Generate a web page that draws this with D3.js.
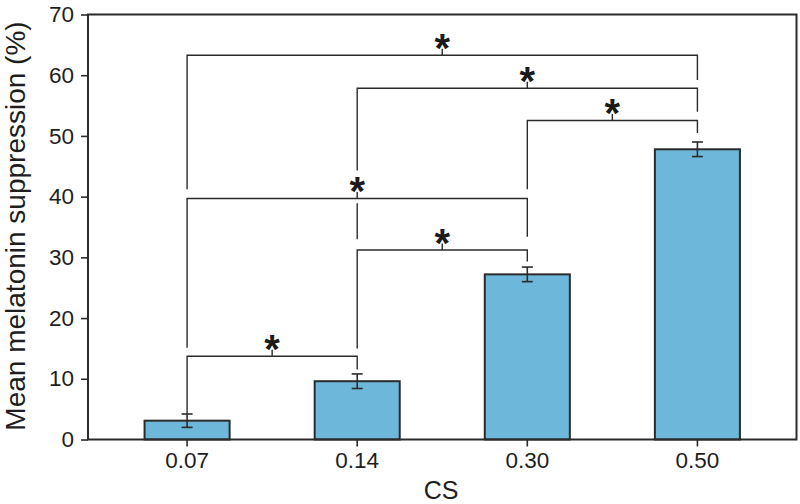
<!DOCTYPE html>
<html>
<head>
<meta charset="utf-8">
<script src="https://cdn.jsdelivr.net/npm/d3@7"></script>
<style>
  html, body { margin: 0; padding: 0; background: #fff; }
  text { font-family: "Liberation Sans", Arial, sans-serif; }
</style>
</head>
<body>
<svg id="chart" width="800" height="504"></svg>
<script>
// ---- data ----
const categories = ["0.07", "0.14", "0.30", "0.50"];
const means = [3.1, 9.6, 27.2, 47.8];
const errors = [1.1, 1.2, 1.2, 1.2];
const yTicks = [0, 10, 20, 30, 40, 50, 60, 70];
// significance brackets: from, to, height, left leg end, right leg end (data units)
const bracketFrom = ["0.07", "0.14", "0.30", "0.07", "0.14", "0.07"];
const bracketTo   = ["0.50", "0.50", "0.50", "0.30", "0.30", "0.14"];
const bracketY    = [63.3, 57.85, 52.55, 39.7, 31.2, 13.7];
const bracketLeftEnd  = [41.2, 44.3, 41.2, 15.1, 15.0, 4.3];
const bracketRightEnd = [59.2, 54.0, 50.5, 33.4, 29.3, 11.55];
const bracketLabel = ["*", "*", "*", "*", "*", "*"];
// extra leg segment (continuation of a bracket leg below a crossing)
const extraLegCat = ["0.14"];
const extraLegTop = [38.9];
const extraLegBottom = [33.0];

// ---- layout ----
const mLeft = 88, mRight = 796.5, mTop = 14.5, mBottom = 439.5;
const svg = d3.select("#chart");

const x = d3.scaleBand().domain(categories).range([mLeft, mRight])
  .paddingInner(0.5).paddingOuter(0.3325);
const y = d3.scaleLinear().domain([0, 70]).range([mBottom, mTop]);
const cx = c => x(c) + x.bandwidth() / 2;

const ink = "#2b2b2b";

// bars
svg.append("g").selectAll("rect").data(categories).join("rect")
  .attr("x", c => x(c))
  .attr("y", (c, i) => y(means[i]))
  .attr("width", x.bandwidth())
  .attr("height", (c, i) => y(0) - y(means[i]))
  .attr("fill", "#6db8da")
  .attr("stroke", ink)
  .attr("stroke-width", 2);

// error bars
const eb = svg.append("g").attr("stroke", ink).attr("stroke-width", 1.6).attr("fill", "none");
categories.forEach((c, i) => {
  const xc = cx(c), hi = y(means[i] + errors[i]), lo = y(means[i] - errors[i]);
  eb.append("line").attr("x1", xc).attr("x2", xc).attr("y1", hi).attr("y2", lo);
  eb.append("line").attr("x1", xc - 5.5).attr("x2", xc + 5.5).attr("y1", hi).attr("y2", hi);
  eb.append("line").attr("x1", xc - 5.5).attr("x2", xc + 5.5).attr("y1", lo).attr("y2", lo);
});

// brackets
const br = svg.append("g").attr("stroke", ink).attr("stroke-width", 1.4).attr("fill", "none");
bracketFrom.forEach((a, i) => {
  const xa = cx(a), xb = cx(bracketTo[i]), yy = y(bracketY[i]);
  br.append("path").attr("d",
    `M${xa},${y(bracketLeftEnd[i])}V${yy}H${xb}V${y(bracketRightEnd[i])}`);
  const xm = (xa + xb) / 2;
  br.append("line").attr("x1", xm).attr("x2", xm).attr("y1", yy).attr("y2", yy - 6.5);
  svg.append("text").attr("x", xm).attr("y", yy + 7)
    .attr("text-anchor", "middle")
    .attr("font-size", 40).attr("font-weight", "bold").attr("fill", "#1a1a1a")
    .text(bracketLabel[i]);
});
extraLegCat.forEach((c, i) => {
  br.append("line").attr("x1", cx(c)).attr("x2", cx(c))
    .attr("y1", y(extraLegTop[i])).attr("y2", y(extraLegBottom[i]));
});

// frame
svg.append("rect").attr("x", mLeft).attr("y", mTop)
  .attr("width", mRight - mLeft).attr("height", mBottom - mTop)
  .attr("fill", "none").attr("stroke", ink).attr("stroke-width", 2);

// y axis
const yAxis = svg.append("g").attr("transform", `translate(${mLeft},0)`)
  .call(d3.axisLeft(y).tickValues(yTicks).tickSize(7).tickSizeOuter(0).tickPadding(7));
yAxis.select(".domain").remove();
yAxis.selectAll("line").attr("stroke", ink).attr("stroke-width", 1.6);
yAxis.selectAll("text").attr("font-size", 22.5).attr("fill", "#1e1e1e")
  .attr("font-family", "'Liberation Sans', Arial, sans-serif");

// x axis
const xAxis = svg.append("g").attr("transform", `translate(0,${mBottom})`)
  .call(d3.axisBottom(x).tickSize(7).tickSizeOuter(0).tickPadding(6));
xAxis.select(".domain").remove();
xAxis.selectAll("line").attr("stroke", ink).attr("stroke-width", 1.6);
xAxis.selectAll("text").attr("font-size", 22.5).attr("fill", "#1e1e1e")
  .attr("font-family", "'Liberation Sans', Arial, sans-serif");

// titles
svg.append("text").attr("x", 441).attr("y", 499).attr("text-anchor", "middle")
  .attr("font-size", 25).attr("fill", "#1e1e1e").text("CS");
svg.append("text")
  .attr("transform", `translate(25,${(mTop + mBottom) / 2 - 1}) rotate(-90)`)
  .attr("text-anchor", "middle").attr("font-size", 28).attr("fill", "#1e1e1e")
  .text("Mean melatonin suppression (%)");
</script>
</body>
</html>
